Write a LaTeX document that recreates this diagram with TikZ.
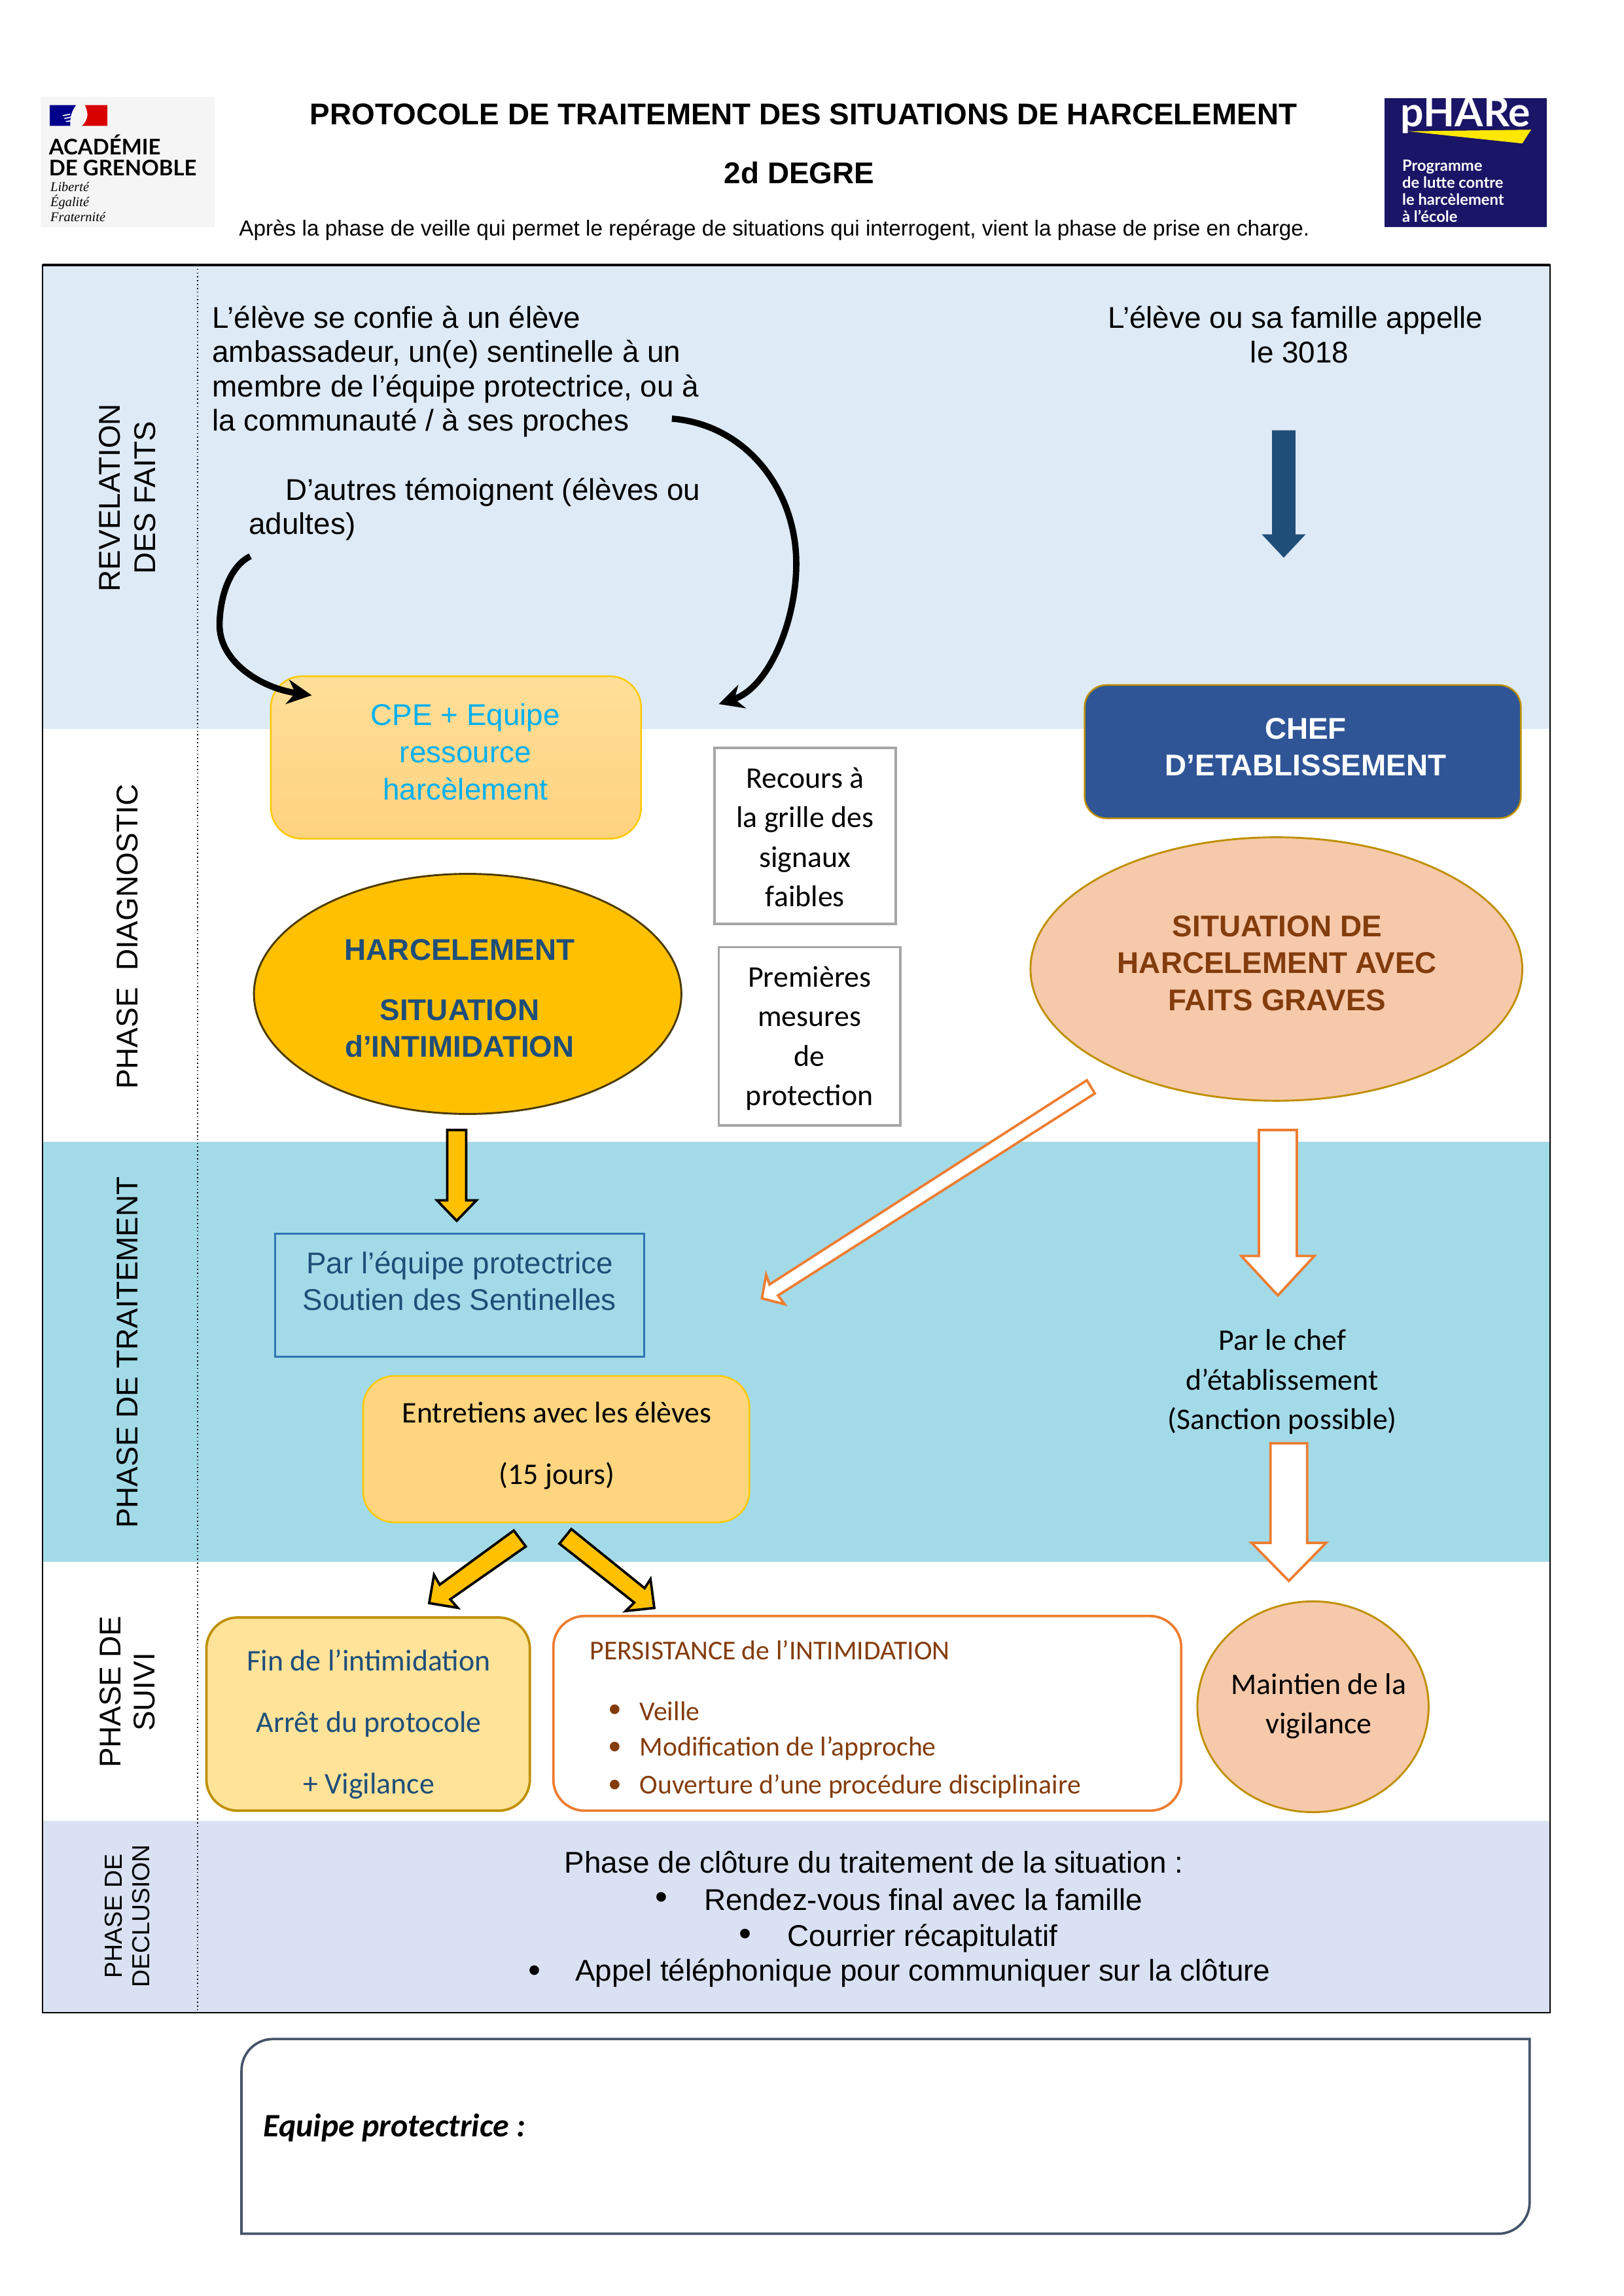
\documentclass[tikz,border=0pt]{standalone}
\usepackage{fontspec}
\setmainfont{Liberation Sans}
\newfontfamily\calib{Carlito}
\newfontfamily\logofont{Lato}
\newfontfamily\serifit{Liberation Serif}
\usetikzlibrary{shapes.geometric,arrows.meta}
\newcommand{\fzs}[2]{\fontsize{#1}{#2}\selectfont}
\definecolor{bandA}{HTML}{DEEAF6}
\definecolor{bandC}{HTML}{A3DAE8}
\definecolor{bandE}{HTML}{DAE1F2}
\definecolor{navy}{HTML}{1F4E79}
\definecolor{amber}{HTML}{FFC000}
\definecolor{goldline}{HTML}{BF9000}
\definecolor{orangeline}{HTML}{ED7D31}
\definecolor{brownt}{HTML}{843C0C}
\definecolor{peach}{HTML}{F6C9AB}
\definecolor{chefblue}{HTML}{2F5597}
\definecolor{cpet}{HTML}{00B0F0}
\definecolor{phareblue}{HTML}{1A1566}
\definecolor{paleyellow}{HTML}{FFE399}
\definecolor{softorange}{HTML}{FFD57F}
\definecolor{cpetop}{HTML}{FFDF98}
\definecolor{cpebot}{HTML}{FFD27F}
\definecolor{slate}{HTML}{44546A}
\definecolor{linkblue}{HTML}{2E75B6}
\tikzset{
  x=0.5369pt,y=-0.5369pt,
  every node/.style={inner sep=0pt,outer sep=0pt},
  sz/.style 2 args={minimum width=#1*0.5369pt,minimum height=#2*0.5369pt},
  body/.style={font=\fzs{11}{12.6},text=black},
  phaselabel/.style={font=\fzs{11}{12.6},rotate=90,align=center},
  cali/.style={font=\calib\fzs{11}{14.5},align=center},
  softbox/.style={rectangle,rounded corners=11.5pt,align=center},
  greybox/.style={rectangle,draw=black!35,line width=0.9pt,fill=white,align=center,font=\calib\fzs{11}{14.5}},
  ptext/.style={anchor=west,text=brownt,font=\calib\fzs{10}{12}},
  yellowblock/.style={draw=black,fill=amber,line width=0.9pt,miter limit=10},
  whiteblock/.style={draw=orangeline,fill=white,line width=0.9pt,miter limit=10},
  curvearrow/.style={draw=black,line width=2.3pt,-{Stealth[length=9pt,width=9pt]}},
  bigdot/.style={font=\fzs{13}{13},text=black},
}
\begin{document}
\begin{tikzpicture}
\useasboundingbox (0,0) rectangle (1109.06,1568.56);
% bands
\fill[bandA] (29,181) rectangle (1059,498);
\fill[bandC] (29,780) rectangle (1059,1067);
\fill[bandE] (29,1244) rectangle (1059,1375);
\draw[black,line width=0.5pt] (29,181) rectangle (1059,1375);
\draw[black,line width=0.9pt] (29,181) -- (1059,181);
\draw[black,line width=0.4pt,densely dotted] (135,181) -- (135,1375);
% logos
\fill[black!4] (27.7,66) rectangle (146.6,155);
\fill[blue!55!black] (34,71.8) -- (52,71.8) .. controls (48,77) and (48,81) .. (48,86) -- (34,86) -- cycle;
\fill[red!85!black] (58,71.8) -- (73.4,71.8) -- (73.4,86) -- (56,86) .. controls (60,82) and (61,78) .. (58,71.8);
\draw[white,line width=0.4pt] (43,79) -- (48,78) (44,81) -- (48.5,80) (45,83) -- (49,82.5);
\node[anchor=west,font=\logofont\bfseries\fzs{7.9}{8}] (acad) at (33.5,99) {ACADÉMIE};
\node[anchor=west,font=\logofont\bfseries\fzs{7.9}{8}] (greno) at (33.5,114.5) {DE GRENOBLE};
\node[anchor=north west,align=left,font=\serifit\itshape\fzs{4.9}{5.5}] (devise) at (34.5,124.5) {Liberté\\Égalité\\Fraternité};
\fill[phareblue] (946,67) rectangle (1056.5,155);
\node[anchor=base west,text=white,font=\logofont\bfseries\fzs{15}{16}] (phare) at (957,86.5) {pHARe};
\fill[yellow!90!orange] (962,89.7) -- (1046,88.6) -- (1040,98) -- cycle;
\node[anchor=north west,align=left,text=white,font=\logofont\bfseries\fzs{5.7}{6.3}] (pharetxt) at (958,109) {Programme\\de lutte contre\\le harcèlement\\à l’école};
% header
\node[font=\bfseries\fzs{11}{12}] (titre) at (549,78) {PROTOCOLE DE TRAITEMENT DES SITUATIONS DE HARCELEMENT};
\node[font=\bfseries\fzs{11}{12}] (degre) at (546,118) {2d DEGRE};
\node[font=\fzs{8}{9}] (intro) at (529,157) {Après la phase de veille qui permet le repérage de situations qui interrogent, vient la phase de prise en charge.};
% phase labels
\node[phaselabel,font=\fzs{11}{13}] (ph1) at (87,340) {REVELATION\\DES FAITS};
\node[phaselabel] (ph2) at (87,640) {PHASE\ \ DIAGNOSTIC};
\node[phaselabel] (ph3) at (87,924) {PHASE DE TRAITEMENT};
\node[phaselabel] (ph4) at (87,1156) {PHASE DE\\SUIVI};
\node[phaselabel,font=\fzs{9}{10}] (ph5) at (87,1309) {PHASE DE\\DECLUSION};
% revelation text
\node[body,anchor=north west,align=left] (rev) at (145,209) {L’élève se confie à un élève\\ambassadeur, un(e) sentinelle à un\\membre de l’équipe protectrice, ou à\\la communauté / à ses proches};
\node[body,anchor=north west,align=left] (temoin) at (170,326.5) {\hspace{13.4pt}D’autres témoignent (élèves ou\\adultes)};
\node[body,align=center] (appel) at (885,228.5) {L’élève ou sa famille appelle\\\hspace{3pt}le 3018};
\fill[navy] (869,294) -- (885,294) -- (885,365) -- (892,365) -- (877,381) -- (862,365) -- (869,365) -- cycle;
% diagnostic
\node[softbox,sz={253}{111},draw=amber!85!yellow,line width=0.6pt,top color=cpetop,bottom color=cpebot] (cpe) at (311.5,517.5) {};
\node[align=center,text=cpet,font=\fzs{11}{13.7}] (cpetxt) at (318,513.5) {CPE + Equipe\\ressource\\harcèlement};
\node[softbox,rounded corners=8pt,sz={298}{91},draw=goldline,line width=0.6pt,fill=chefblue] (chef) at (890,513.5) {};
\node[align=center,text=white,font=\bfseries\fzs{11}{13.5}] (cheftxt) at (892,510.5) {CHEF\\D’ETABLISSEMENT};
\node[greybox,sz={124}{120}] (grille) at (550,571) {\rule{0pt}{8.5pt}Recours à\\la grille des\\signaux\\faibles};
\node[greybox,sz={124}{122}] (mesures) at (553,708) {\rule{0pt}{9pt}Premières\\mesures\\de\\protection};
\node[ellipse,sz={292}{164},draw=black!60!goldline,line width=0.7pt,fill=amber] (harc) at (319.5,679) {};
\node[align=center,text=navy,font=\bfseries\fzs{11}{13.5}] (harctxt) at (314,682) {HARCELEMENT\\[8.5pt]SITUATION\\d’INTIMIDATION};
\node[ellipse,sz={336}{180},draw=goldline,line width=0.7pt,fill=peach] (grave) at (872,662) {};
\node[align=center,text=brownt,font=\bfseries\fzs{11}{13.5}] (gravetxt) at (872.5,658) {SITUATION DE\\HARCELEMENT AVEC\\FAITS GRAVES};
% curved arrows
\coordinate (c1s) at (459,286);
\coordinate (c1e) at (491,481);
\coordinate (c2s) at (171,380);
\coordinate (c2e) at (213,475);
\draw[curvearrow] (c1s) .. controls (510,290) and (544,335) .. (544,385) .. controls (544,425) and (525,470) .. (c1e);
\draw[curvearrow] (c2s) .. controls (155,388) and (150,412) .. (150,427) .. controls (150,452) and (178,470) .. (c2e);
% traitement
\fill[yellowblock] (305.5,772) -- (318.5,772) -- (318.5,820) -- (325.5,820) -- (312,834) -- (298.5,820) -- (305.5,820) -- cycle;
\draw[whiteblock] (742.5,738) -- (748,747) -- (531.5,885) -- (536,891) -- (520.5,887) -- (523.4,871) -- (525.7,877.5) -- cycle;
\draw[whiteblock] (860,772) -- (886,772) -- (886,858) -- (898,858) -- (873,885) -- (848,858) -- (860,858) -- cycle;
\node[rectangle,sz={252}{84},draw=linkblue,line width=0.7pt] (equipe) at (314,885) {};
\node[align=center,text=navy,font=\fzs{11}{13.5}] (equipetxt) at (314,875) {Par l’équipe protectrice\\Soutien des Sentinelles};
\node[softbox,sz={264}{100},draw=amber!85!yellow,line width=0.6pt,fill=softorange] (entret) at (380,990) {};
\node[cali] (entrettxt) at (380.5,987.5) {Entretiens avec les élèves\\[8pt](15 jours)};
\node[cali] (chefpar) at (876,944) {Par le chef\\d’établissement\\(Sanction possible)};
\draw[whiteblock] (868,986) -- (893,986) -- (893,1054) -- (906,1054) -- (880.5,1080) -- (855,1054) -- (868,1054) -- cycle;
\draw[yellowblock] (351,1045.6) -- (359.2,1056.5) -- (307.6,1092.6) -- (312.7,1098.4) -- (293.2,1095.2) -- (296.5,1075.9) -- (300.4,1082.6) -- cycle;
\draw[yellowblock] (390.3,1044.6) -- (382.2,1054.6) -- (433.3,1094.8) -- (427.4,1100.6) -- (447,1098.5) -- (444.4,1078.8) -- (440.4,1085) -- cycle;
% suivi
\node[softbox,sz={221}{132},draw=goldline,line width=0.9pt,fill=paleyellow] (fin) at (251.5,1171) {};
\node[cali,text=navy] (fintxt) at (252,1178) {Fin de l’intimidation\\[8pt]Arrêt du protocole\\[8pt]+ Vigilance};
\node[softbox,sz={429}{133},draw=orangeline,line width=0.9pt,fill=white] (persbox) at (592.5,1170.5) {};
\node[ptext] (pers) at (403,1127.5) {PERSISTANCE de l’INTIMIDATION};
\foreach \yy/\nm/\tx in {1169/p1/Veille,1194.5/p2/Modification de l’approche,1220.5/p3/Ouverture d’une procédure disciplinaire}{
  \node[ptext] (\nm) at (437,\yy) {\tx};
  \node[text=brownt,font=\calib\fzs{10}{12}] (\nm b) at (420,\yy) {•};
}
\node[ellipse,sz={158}{144},draw=goldline,line width=0.7pt,fill=peach] (maintien) at (897,1166) {};
\node[cali] (mainttxt) at (901,1165.5) {Maintien de la\\vigilance};
% cloture
\node[body] (clot) at (597,1272) {Phase de clôture du traitement de la situation :};
\node[body,anchor=west] (b1) at (481,1297.5) {Rendez-vous final avec la famille};
\node[bigdot] (b1d) at (452,1298.5) {•};
\node[body,anchor=west] (b2) at (538,1324) {Courrier récapitulatif};
\node[bigdot] (b2d) at (509,1323.5) {•};
\node[body,anchor=west] (b3) at (393,1348) {Appel téléphonique pour communiquer sur la clôture};
\node[bigdot] (b3d) at (365,1348.5) {•};
% bottom box
\draw[draw=slate,line width=0.9pt] (165,1526) [rounded corners=11.5pt] -- (165,1393) [sharp corners] -- (1045,1393) [rounded corners=11.5pt] -- (1045,1526) [sharp corners] -- cycle;
\node[anchor=west,font=\calib\bfseries\itshape\fzs{12}{13}] (eqp) at (180,1453.5) {Equipe protectrice :};
\end{tikzpicture}
\end{document}
